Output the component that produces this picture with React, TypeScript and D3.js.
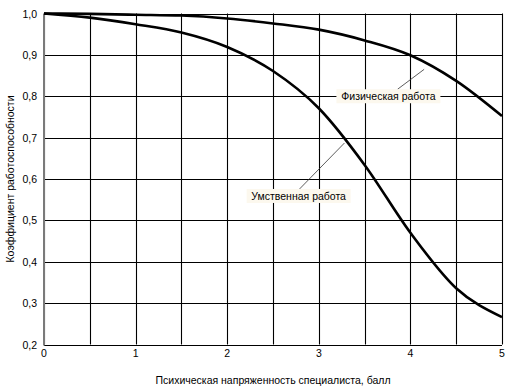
import React from "react";
import * as d3 from "d3";

// значения
const xTicks = [0, 1, 2, 3, 4, 5];
const yTicks = [0.2, 0.3, 0.4, 0.5, 0.6, 0.7, 0.8, 0.9, 1.0];
const xGrid = [0, 0.5, 1, 1.5, 2, 2.5, 3, 3.5, 4, 4.5, 5];
const stress = [0, 0.5, 1, 1.5, 2, 2.5, 3, 3.5, 4, 4.5, 5];
const physical = [1.0, 0.999, 0.997, 0.995, 0.988, 0.976, 0.961, 0.935, 0.899, 0.837, 0.752];
const mental = [1.0, 0.99, 0.974, 0.954, 0.919, 0.861, 0.771, 0.634, 0.47, 0.336, 0.266];
const labels = [
  { text: "Физическая работа", at: [3.76, 0.80], from: 3.86, to: [4.15, 0.865] },
  { text: "Умственная работа", at: [2.78, 0.559], from: 2.79, to: [3.28, 0.687] },
];

const W = 519;
const H = 387;
const font = "'Liberation Sans', Arial, sans-serif";

export default function App() {
  const x = d3.scaleLinear().domain([0, 5]).range([44, 502]);
  const y = d3.scaleLinear().domain([0.2, 1.0]).range([344.5, 13.5]);

  const line = d3
    .line<number>()
    .x((d, i) => x(stress[i]))
    .y((d) => y(d))
    .curve(d3.curveMonotoneX);

  return (
    <svg
      width={W}
      height={H}
      style={{ position: "absolute", left: 0, top: 0, background: "#fff" }}
      fontFamily={font}
    >
      {/* сетка */}
      {xGrid.map((v) => (
        <line
          key={"gx" + v}
          x1={Math.round(x(v)) + 0.5}
          x2={Math.round(x(v)) + 0.5}
          y1={y(1.0)}
          y2={y(0.2)}
          stroke="#000"
          strokeWidth={1.1}
        />
      ))}
      {yTicks.map((v) => (
        <line
          key={"gy" + v}
          x1={x(0)}
          x2={x(5)}
          y1={Math.round(y(v)) + 0.5}
          y2={Math.round(y(v)) + 0.5}
          stroke="#000"
          strokeWidth={1.1}
        />
      ))}
      <line x1={x(0)} x2={x(0)} y1={y(1.0)} y2={y(0.2) + 1} stroke="#7a7a7a" strokeWidth={2} />

      {/* подписи осей */}
      {yTicks.map((v) => (
        <text key={"ty" + v} x={37} y={y(v) + 4} fontSize={10.5} textAnchor="end" fill="#000">
          {v.toFixed(1).replace(".", ",")}
        </text>
      ))}
      {xTicks.map((v) => (
        <text key={"tx" + v} x={x(v)} y={357} fontSize={10.5} textAnchor="middle" fill="#000">
          {v}
        </text>
      ))}
      <text x={273} y={384} fontSize={10.5} textAnchor="middle" fill="#000">
        Психическая напряженность специалиста, балл
      </text>
      <text
        transform={`translate(14,179) rotate(-90)`}
        fontSize={10.5}
        textAnchor="middle"
        fill="#000"
      >
        Коэффициент работоспособности
      </text>

      {/* кривые */}
      <path d={line(physical) || ""} fill="none" stroke="#000" strokeWidth={2.6} />
      <path d={line(mental) || ""} fill="none" stroke="#000" strokeWidth={2.6} />

      {/* выноски */}
      {labels.map((l) => {
        const cx = x(l.at[0]);
        const cy = y(l.at[1]);
        return (
          <g key={l.text}>
            <line
              x1={x(l.from)}
              y1={cy - 7}
              x2={x(l.to[0])}
              y2={y(l.to[1])}
              stroke="#333"
              strokeWidth={0.8}
            />
            <rect x={cx - 52} y={cy - 7} width={104} height={14} fill="#fcf8ee" />
            <text x={cx} y={cy + 4} fontSize={10.5} textAnchor="middle" fill="#000">
              {l.text}
            </text>
          </g>
        );
      })}
    </svg>
  );
}
